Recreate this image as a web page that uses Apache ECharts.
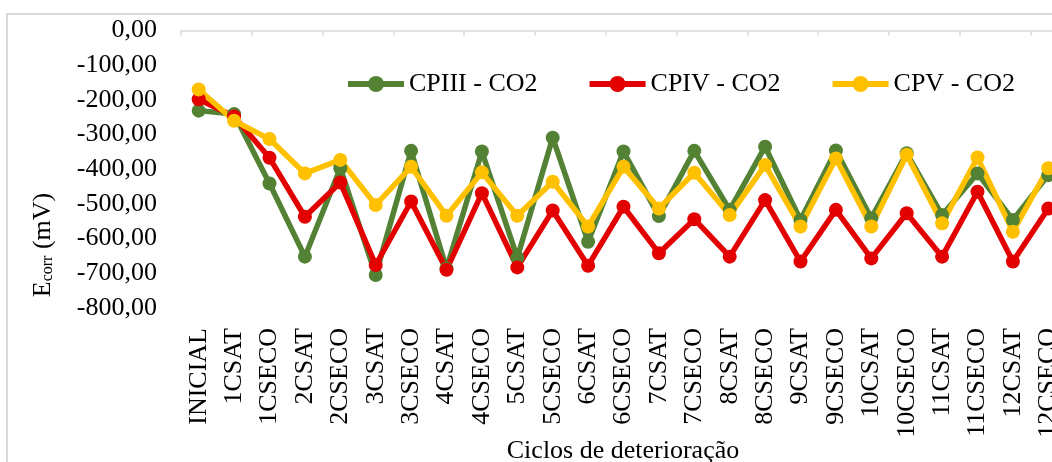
<!DOCTYPE html>
<html>
<head>
<meta charset="utf-8">
<script src="https://cdn.jsdelivr.net/npm/echarts@6/dist/echarts.min.js"></script>
<style>
html,body{margin:0;padding:0;background:#fff;}
#chart{width:1052px;height:462px;}
</style>
</head>
<body>
<div id="chart"></div>
<script>
const categories = ['INICIAL','1CSAT','1CSECO','2CSAT','2CSECO','3CSAT','3CSECO','4CSAT','4CSECO','5CSAT','5CSECO','6CSAT','6CSECO','7CSAT','7CSECO','8CSAT','8CSECO','9CSAT','9CSECO','10CSAT','10CSECO','11CSAT','11CSECO','12CSAT','12CSECO'];
const cpiii = [-231,-241,-441,-652,-397,-705,-347,-686,-349,-655,-309,-609,-349,-535,-347,-517,-335,-546,-346,-541,-354,-532,-412,-546,-417];
const cpiv  = [-198,-248,-367,-537,-438,-676,-493,-690,-469,-683,-519,-678,-508,-642,-544,-652,-489,-666,-517,-657,-527,-652,-465,-666,-513];
const cpv   = [-170,-260,-313,-412,-373,-503,-393,-534,-409,-534,-436,-565,-393,-513,-410,-532,-388,-565,-369,-565,-358,-556,-366,-580,-397];
const seriesNames = ['CPIII - CO2','CPIV - CO2','CPV - CO2'];
const seriesColors = ['#548235','#e30000','#ffc000'];
const yTicks = {min:-800, max:0, interval:100};

const FONT = 'Liberation Serif';
const chart = echarts.init(document.getElementById('chart'), null, {renderer:'canvas'});
const dataSets = [cpiii, cpiv, cpv];
const option = {
  animation:false,
  backgroundColor:'#fff',
  textStyle:{fontFamily:FONT},
  grid:{left:181, top:30.5, bottom:154, right:-14, outerBoundsMode:'none', containLabel:false},
  legend:{
    left:340, top:66, itemWidth:56, itemHeight:20, itemGap:49,
    lineStyle:{width:6},
    textStyle:{fontFamily:FONT, fontSize:26, color:'#000'},
    data:seriesNames
  },
  graphic:[
    {type:'rect', shape:{x:7, y:14, width:1100, height:500}, style:{fill:'none', stroke:'#d9d9d9', lineWidth:2}, silent:true},
    {type:'text', x:43, y:245, rotation:Math.PI/2,
      style:{text:'{a|E}{b|corr}{a| (mV)}', align:'center', verticalAlign:'middle',
        rich:{a:{fontFamily:FONT, fontSize:26, fill:'#000'}, b:{fontFamily:FONT, fontSize:16, fill:'#000', verticalAlign:'bottom', padding:[10,0,0,0]}}}},
    {type:'text', x:623, y:451,
      style:{text:'Ciclos de deterioração', fontFamily:FONT, fontSize:26, fill:'#000', align:'center', verticalAlign:'middle'}}
  ],
  xAxis:[
    {type:'category', data:categories, position:'top', boundaryGap:true,
      axisLine:{show:true, lineStyle:{color:'#d9d9d9', width:1.5}},
      axisTick:{show:true, inside:true, length:5, lineStyle:{color:'#d9d9d9', width:1.5}},
      axisLabel:{show:false}, splitLine:{show:false}},
    {type:'category', data:categories, position:'bottom', boundaryGap:true,
      axisLine:{show:false, onZero:false}, axisTick:{show:false},
      axisLabel:{show:true, interval:0, rotate:90, margin:20, fontFamily:FONT, fontSize:26, color:'#000'},
      splitLine:{show:false}}
  ],
  yAxis:{
    type:'value', min:yTicks.min, max:yTicks.max, interval:yTicks.interval,
    axisLine:{show:false}, axisTick:{show:false}, splitLine:{show:false},
    axisLabel:{margin:24, fontFamily:FONT, fontSize:26, color:'#000',
      formatter:v=>v.toFixed(2).replace('.',',')}
  },
  series: dataSets.map((d,i)=>({
    name:seriesNames[i], type:'line', xAxisIndex:0, data:d,
    symbol:'circle', symbolSize:14, showSymbol:true,
    lineStyle:{color:seriesColors[i], width:5.5},
    itemStyle:{color:seriesColors[i]}
  }))
};
chart.setOption(option);
</script>
</body>
</html>
